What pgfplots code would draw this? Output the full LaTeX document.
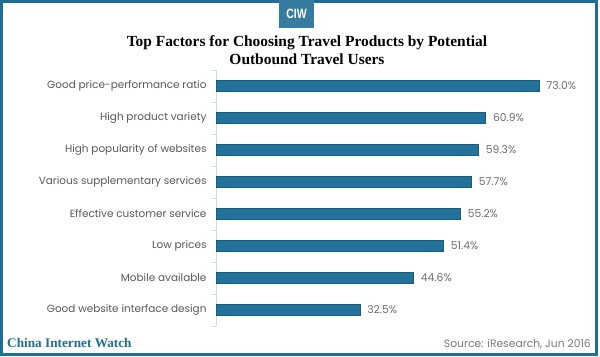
\documentclass[border=0pt]{standalone}
\usepackage{pgfplots}
\pgfplotsset{compat=1.18}
\usepackage{fontspec}
\setmainfont{Poppins}
\newfontfamily\titlefont{Liberation Serif}
\newfontfamily\logofont{Liberation Sans}
\definecolor{barblue}{HTML}{22729A}
\definecolor{bordblue}{HTML}{1E6E96}
\definecolor{labgray}{HTML}{595959}
\definecolor{valgray}{HTML}{6E6E6E}
\definecolor{axgray}{HTML}{D9D9D9}
\begin{document}
\begin{tikzpicture}[x=1bp,y=1bp]
\useasboundingbox (0,0) rectangle (600,356);
\fill[white] (0,0) rectangle (600,356);
\draw[bordblue,line width=2.5bp] (1.5,1.5) rectangle (596.5,354.5);
% logo
\fill[bordblue!90!white] (279,328) rectangle (314,356);
\node[white,font=\logofont\bfseries\fontsize{13.5}{13}\selectfont,xscale=0.78] at (296.5,342) {CIW};
% title
\node[align=center,font=\titlefont\bfseries\fontsize{15.5}{18}\selectfont] at (307,306) {Top Factors for Choosing Travel Products by Potential\\Outbound Travel Users};
\begin{axis}[
  at={(216bp,30bp)}, anchor=south west,
  width=354bp, height=256bp, scale only axis,
  xmin=0, xmax=80, ymin=-0.5, ymax=7.5,
  y dir=reverse,
  axis x line=none,
  axis y line*=left,
  y axis line style={axgray,line width=0.8bp,-},
  ytick={0,...,7},
  yticklabels={Good price-performance ratio,High product variety,High popularity of websites,Various supplementary services,Effective customer service,Low prices,Mobile available,Good website interface design},
  major tick length=0pt,
  minor ytick={-0.5,0.5,...,7.5},
  minor tick length=4bp,
  tick align=outside,
  minor tick style={axgray,line width=0.6bp},
  yticklabel style={font=\fontsize{10.5}{12}\selectfont,text=labgray,xshift=-6bp},
  xbar, bar width=11bp,
  point meta=x,
  /pgf/number format/assume math mode=true,
  nodes near coords={\pgfmathprintnumber[fixed,fixed zerofill,precision=1]{\pgfplotspointmeta}\%},
  nodes near coords style={font=\fontsize{10.8}{12}\selectfont,text=valgray,anchor=west,xshift=4bp},
  clip=false,
]
\addplot[fill=barblue,draw=barblue!80!black,line width=0.4bp] coordinates {
(73.0,0) (60.9,1) (59.3,2) (57.7,3) (55.2,4) (51.4,5) (44.6,6) (32.5,7)};
\end{axis}
\node[anchor=base west,text=bordblue,font=\titlefont\bfseries\fontsize{13.3}{13}\selectfont,inner sep=0] at (7,9) {China Internet Watch};
\node[anchor=base east,text=labgray!80,font=\fontsize{10.8}{12}\selectfont,inner sep=0] at (591,9) {Source: iResearch, Jun 2016};
\end{tikzpicture}
\end{document}
